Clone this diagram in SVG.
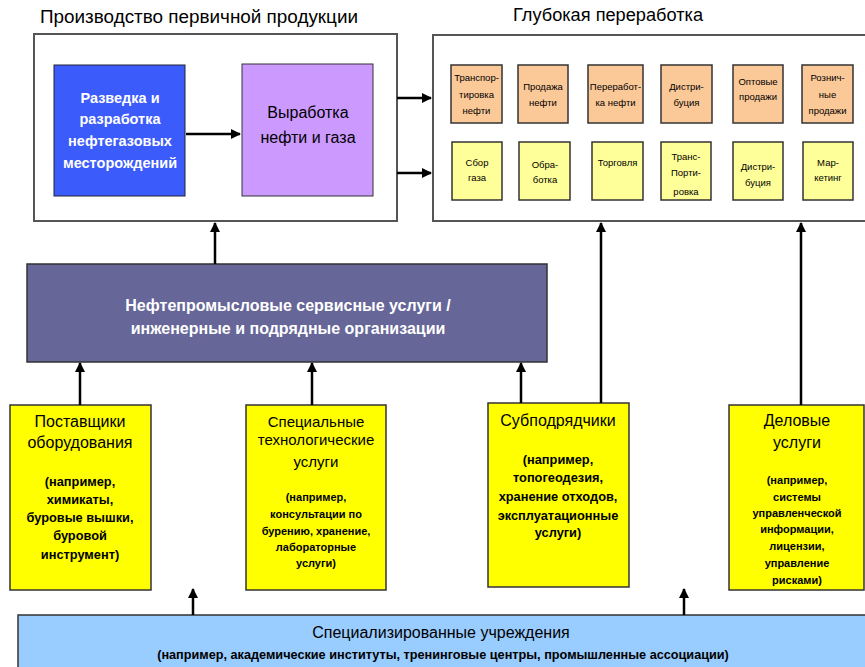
<svg xmlns="http://www.w3.org/2000/svg" width="865" height="667" viewBox="0 0 865 667">
<defs>
<marker id="ah" viewBox="0 0 10 10" refX="9" refY="5" markerWidth="4" markerHeight="4" orient="auto" markerUnits="strokeWidth">
<path d="M0,0 L10,5 L0,10 z" fill="#000"/>
</marker>
<style>
text{font-family:"Liberation Sans",Arial,sans-serif;text-anchor:middle}
.frame{fill:#fff;stroke:#555;stroke-width:2}
.sm{font-size:9.5px;fill:#000}
.or{fill:#fbc898;stroke:#333;stroke-width:1.5}
.py{fill:#ffff99;stroke:#333;stroke-width:1.5}
.yb{fill:#ffff00;stroke:#333;stroke-width:1.5}
.hd{font-size:16px;fill:#000}
.sb{font-size:12.8px;font-weight:bold;fill:#000}
.sb2{font-size:11px;font-weight:bold;fill:#000}
.con line{stroke:#000;stroke-width:2.5;marker-end:url(#ah)}
</style>
</defs>
<rect width="865" height="667" fill="#fff"/>

<text x="199" y="23" style="font-size:17.5px" textLength="318" lengthAdjust="spacingAndGlyphs">Производство первичной продукции</text>
<text x="608" y="21" style="font-size:17.5px" textLength="190" lengthAdjust="spacingAndGlyphs">Глубокая переработка</text>

<g id="primary">
<rect class="frame" x="34" y="34" width="363" height="187"/>
</g>
<g id="deep">
<rect class="frame" x="433" y="35" width="440" height="186"/>
</g>

<g id="explore">
<rect x="54" y="65" width="131" height="131" fill="#3b5bfb" stroke="#223" stroke-width="1"/>
<text x="120" y="103" style="font-size:14.5px;font-weight:bold;fill:#fff">Разведка и</text>
<text x="120" y="124" style="font-size:14.5px;font-weight:bold;fill:#fff">разработка</text>
<text x="120" y="146" style="font-size:14.5px;font-weight:bold;fill:#fff">нефтегазовых</text>
<text x="120" y="168" style="font-size:14.5px;font-weight:bold;fill:#fff">месторождений</text>
</g>
<g id="produce">
<rect x="242" y="64" width="131" height="132" fill="#cc99ff" stroke="#333" stroke-width="1"/>
<text x="308" y="118" style="font-size:16px">Выработка</text>
<text x="308" y="143" style="font-size:16px">нефти и газа</text>
</g>

<g id="o1"><rect class="or" x="451" y="65" width="51" height="58"/>
<text class="sm" x="476.5" y="81">Транспор-</text><text class="sm" x="476.5" y="98">тировка</text><text class="sm" x="476.5" y="114">нефти</text></g>
<g id="o2"><rect class="or" x="518" y="65" width="50" height="58"/>
<text class="sm" x="543" y="90">Продажа</text><text class="sm" x="543" y="106">нефти</text></g>
<g id="o3"><rect class="or" x="588" y="65" width="55" height="58"/>
<text class="sm" x="615.5" y="90">Переработ-</text><text class="sm" x="615.5" y="106">ка нефти</text></g>
<g id="o4"><rect class="or" x="661" y="65" width="51" height="58"/>
<text class="sm" x="686.5" y="90">Дистри-</text><text class="sm" x="686.5" y="106">буция</text></g>
<g id="o5"><rect class="or" x="733" y="65" width="50" height="58"/>
<text class="sm" x="758" y="85">Оптовые</text><text class="sm" x="758" y="100">продажи</text></g>
<g id="o6"><rect class="or" x="802" y="65" width="51" height="58"/>
<text class="sm" x="827.5" y="81">Рознич-</text><text class="sm" x="827.5" y="98">ные</text><text class="sm" x="827.5" y="114">продажи</text></g>

<g id="y1"><rect class="py" x="452" y="142" width="50" height="58"/>
<text class="sm" x="477" y="166">Сбор</text><text class="sm" x="477" y="181">газа</text></g>
<g id="y2"><rect class="py" x="519" y="142" width="51" height="58"/>
<text class="sm" x="545" y="168">Обра-</text><text class="sm" x="545" y="183">ботка</text></g>
<g id="y3"><rect class="py" x="592" y="142" width="51" height="58"/>
<text class="sm" x="617.5" y="166">Торговля</text></g>
<g id="y4"><rect class="py" x="661" y="142" width="50" height="58"/>
<text class="sm" x="686" y="160">Транс-</text><text class="sm" x="686" y="176">Порти-</text><text class="sm" x="686" y="195">ровка</text></g>
<g id="y5"><rect class="py" x="733" y="142" width="50" height="58"/>
<text class="sm" x="758" y="170">Дистри-</text><text class="sm" x="758" y="186">буция</text></g>
<g id="y6"><rect class="py" x="803" y="142" width="50" height="58"/>
<text class="sm" x="828" y="166">Мар-</text><text class="sm" x="828" y="181">кетинг</text></g>

<g id="oilfield">
<rect x="27" y="264" width="520" height="98" fill="#666699" stroke="#333" stroke-width="1.5"/>
<text x="288" y="311" style="font-size:16px;font-weight:bold;fill:#fff">Нефтепромысловые сервисные услуги /</text>
<text x="288" y="334" style="font-size:16px;font-weight:bold;fill:#fff">инженерные и подрядные организации</text>
</g>

<g id="suppliers">
<rect class="yb" x="10" y="405" width="141" height="185"/>
<text class="hd" x="80" y="427">Поставщики</text>
<text class="hd" x="80" y="448">оборудования</text>
<text class="sb" x="80" y="486">(например,</text>
<text class="sb" x="80" y="504">химикаты,</text>
<text class="sb" x="80" y="522">буровые вышки,</text>
<text class="sb" x="80" y="540">буровой</text>
<text class="sb" x="80" y="559">инструмент)</text>
</g>
<g id="special">
<rect class="yb" x="246" y="405" width="140" height="185"/>
<text x="316" y="427" style="font-size:15px">Специальные</text>
<text x="316" y="445" style="font-size:15px">технологические</text>
<text x="316" y="467" style="font-size:15px">услуги</text>
<text class="sb2" x="316" y="501">(например,</text>
<text class="sb2" x="316" y="518">консультации по</text>
<text class="sb2" x="316" y="535">бурению, хранение,</text>
<text class="sb2" x="316" y="551">лабораторные</text>
<text class="sb2" x="316" y="567">услуги)</text>
</g>
<g id="subcontractors">
<rect class="yb" x="488" y="403" width="141" height="184"/>
<text class="hd" x="558" y="426">Субподрядчики</text>
<text class="sb" x="558" y="464">(например,</text>
<text class="sb" x="558" y="482">топогеодезия,</text>
<text class="sb" x="558" y="501">хранение отходов,</text>
<text class="sb" x="558" y="520">эксплуатационные</text>
<text class="sb" x="558" y="537">услуги)</text>
</g>
<g id="business">
<rect class="yb" x="729" y="405" width="135" height="185"/>
<text class="hd" x="797" y="426">Деловые</text>
<text class="hd" x="797" y="448">услуги</text>
<text class="sb2" x="797" y="484">(например,</text>
<text class="sb2" x="797" y="501">системы</text>
<text class="sb2" x="797" y="517">управленческой</text>
<text class="sb2" x="797" y="533">информации,</text>
<text class="sb2" x="797" y="550">лицензии,</text>
<text class="sb2" x="797" y="567">управление</text>
<text class="sb2" x="797" y="584">рисками)</text>
</g>

<g id="institutions">
<rect x="18" y="615" width="860" height="60" fill="#99ccff" stroke="#333" stroke-width="1.5"/>
<text x="441" y="638" style="font-size:16px">Специализированные учреждения</text>
<text x="443" y="659" style="font-size:12.7px;font-weight:bold">(например, академические институты, тренинговые центры, промышленные ассоциации)</text>
</g>

<g class="con" id="connectors">
<line x1="186" y1="134" x2="240" y2="134"/>
<line x1="397" y1="98" x2="431" y2="98"/>
<line x1="397" y1="173" x2="431" y2="173"/>
<line x1="215" y1="264" x2="215" y2="223"/>
<line x1="601" y1="403" x2="601" y2="223"/>
<line x1="801" y1="405" x2="801" y2="223"/>
<line x1="80" y1="405" x2="80" y2="363"/>
<line x1="312" y1="405" x2="312" y2="363"/>
<line x1="521" y1="403" x2="521" y2="363"/>
<line x1="193" y1="615" x2="193" y2="589"/>
<line x1="684" y1="615" x2="684" y2="589"/>
</g>
</svg>
